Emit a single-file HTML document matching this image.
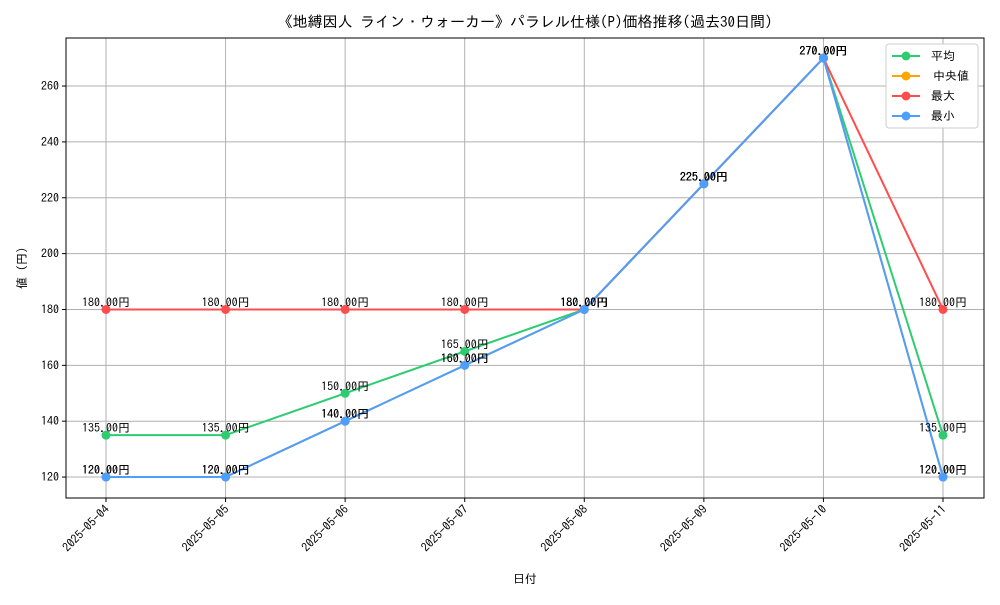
<!DOCTYPE html>
<html><head><meta charset="utf-8"><style>
body{margin:0;background:#fff;}
svg text{font-family:"IPAGothic","Liberation Sans","Noto Sans CJK JP",sans-serif;}
</style></head><body>
<svg id="c" width="1000" height="600" xmlns="http://www.w3.org/2000/svg">
<rect width="1000" height="600" fill="#fff"/>
<text x="525" y="27" font-size="15" text-anchor="middle">《地縛因人 ライン・ウォーカー》パラレル仕様(P)価格推移(過去30日間)</text>
<g id="grid"></g><g id="axes"></g><g id="series"></g><g id="labels"></g>
<text x="525" y="583" font-size="12" text-anchor="middle">日付</text>
<text x="26" y="268" font-size="12" text-anchor="middle" transform="rotate(-90 26 268)">値 (円)</text>
<g>
<rect x="886" y="44" width="92" height="84" rx="3" fill="#fff" stroke="#ccc"/>
<line x1="892" y1="56" x2="920" y2="56" stroke="#2ecc71" stroke-width="2"/><circle cx="906" cy="56" r="4.5" fill="#2ecc71"/><text x="931" y="60" font-size="12">平均</text>
<line x1="892" y1="76" x2="920" y2="76" stroke="#ffa500" stroke-width="2"/><circle cx="906" cy="76" r="4.5" fill="#ffa500"/><text x="933" y="80" font-size="12">中央値</text>
<line x1="892" y1="96" x2="920" y2="96" stroke="#ff4d4d" stroke-width="2"/><circle cx="906" cy="96" r="4.5" fill="#ff4d4d"/><text x="931" y="100" font-size="12">最大</text>
<line x1="892" y1="116" x2="920" y2="116" stroke="#4d9fff" stroke-width="2"/><circle cx="906" cy="116" r="4.5" fill="#4d9fff"/><text x="931" y="120" font-size="12">最小</text>
</g>
</svg>
<script>
const dates=["2025-05-04","2025-05-05","2025-05-06","2025-05-07","2025-05-08","2025-05-09","2025-05-10","2025-05-11"];
const meanVals=[135,135,150,165,180,225,270,135];
const medianVals=[120,120,140,160,180,225,270,120];
const maxVals=[180,180,180,180,180,225,270,180];
const minVals=[120,120,140,160,180,225,270,120];
const yTicks=[120,140,160,180,200,220,240,260];
const NS="http://www.w3.org/2000/svg";
const L=66,R=984,T=38,B=498,YMIN=112.5,YMAX=277.2;
const xs=i=>106+i*(943-106)/(dates.length-1);
const ys=v=>B-(v-YMIN)/(YMAX-YMIN)*(B-T);
function mk(t,a,p){const e=document.createElementNS(NS,t);for(const k in a)e.setAttribute(k,a[k]);p.appendChild(e);return e;}
const grid=document.getElementById('grid'),axes=document.getElementById('axes'),ser=document.getElementById('series'),lab=document.getElementById('labels');
yTicks.forEach(v=>{const y=ys(v);
const g=mk('line',{x1:L,x2:R,y1:y,y2:y,stroke:'#b0b0b0','stroke-width':1},grid);


mk('line',{x1:L-4,x2:L,y1:y,y2:y,stroke:'#000'},axes);
const t=mk('text',{x:L-7,y:y+4,'font-size':12,'text-anchor':'end'},axes);t.textContent=v;

});
dates.forEach((d,i)=>{const x=xs(i);
const g=mk('line',{x1:x,x2:x,y1:T,y2:B,stroke:'#b0b0b0','stroke-width':1},grid);


mk('line',{x1:x,x2:x,y1:B,y2:B+4,stroke:'#000'},axes);
const t=mk('text',{x:x+4,y:B+12,'font-size':12,'text-anchor':'end',transform:`rotate(-45 ${x+4} ${B+12})`},axes);t.textContent=d;

});
const fr=mk('rect',{x:L,y:T,width:R-L,height:B-T,fill:'none',stroke:'#000'},axes);


[[meanVals,'#2ecc71','mean'],[medianVals,'#ffa500','median'],[maxVals,'#ff4d4d','max'],[minVals,'#4d9fff','min']].forEach(([vals,col,nm])=>{
const p=mk('polyline',{points:vals.map((v,i)=>xs(i)+','+ys(v)).join(' '),fill:'none',stroke:col,'stroke-width':2},ser);


vals.forEach((v,i)=>{const c=mk('circle',{cx:xs(i),cy:ys(v),r:4.5,fill:col},ser);


const t=mk('text',{x:xs(i),y:ys(v)-3,'font-size':12,'text-anchor':'middle'},lab);t.textContent=v.toFixed(2)+'円';

});});
</script>
</body></html>
